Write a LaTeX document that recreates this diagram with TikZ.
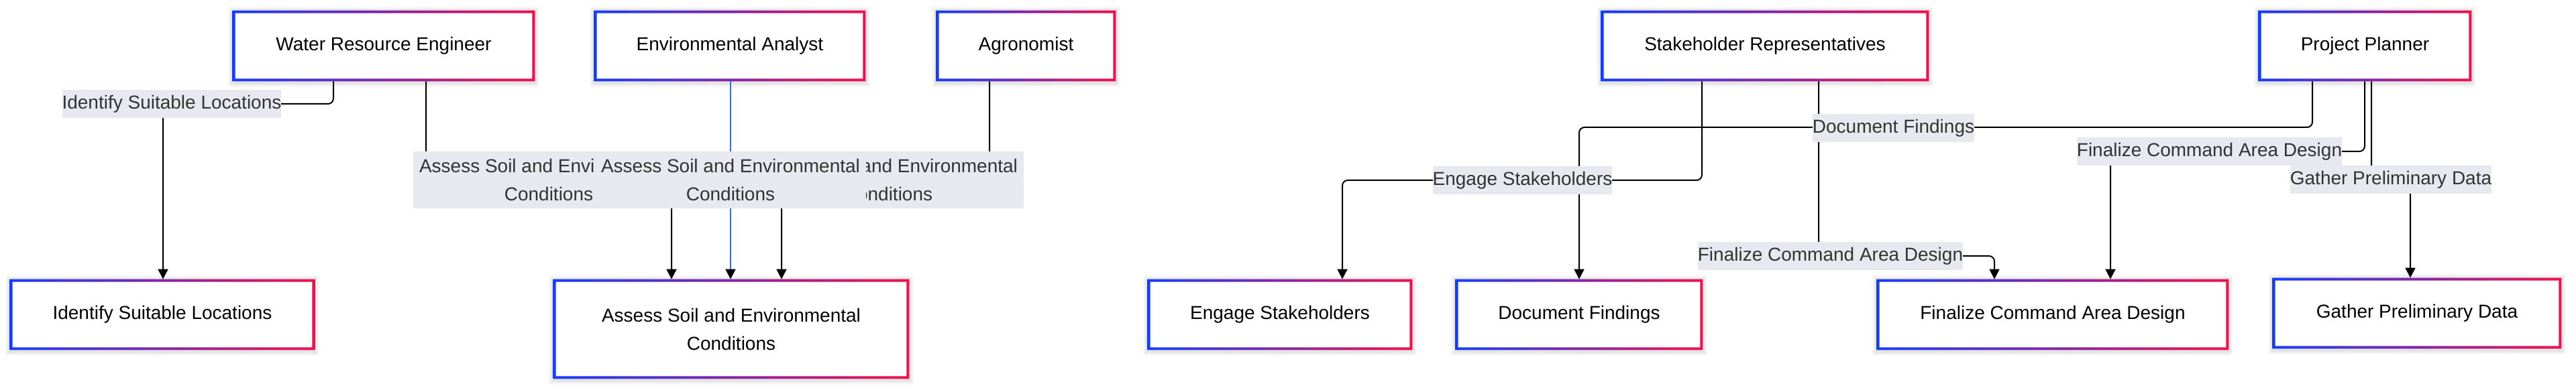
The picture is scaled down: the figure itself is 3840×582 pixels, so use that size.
\documentclass[tikz,border=0pt]{standalone}
\usepackage{fontspec}
\setmainfont{Liberation Sans}
\usetikzlibrary{arrows.meta}
\pgfdeclarelayer{bg}
\pgfdeclarelayer{edges}
\pgfsetlayers{bg,edges,main}
\definecolor{gbl}{RGB}{20,60,255}
\definecolor{grd}{RGB}{245,15,75}
\definecolor{labbg}{RGB}{232,232,241}
\definecolor{labtxt}{RGB}{51,51,51}
\definecolor{eblue}{RGB}{51,102,255}
\tikzset{
  boxn/.style={fill=white, inner sep=0pt, align=center, text=black,
    font=\fontsize{14}{21}\selectfont},
  lab/.style={fill=labbg, text=labtxt, inner sep=0pt, align=center,
    minimum height=21pt, font=\fontsize{14}{21}\selectfont},
  lab2/.style={lab, minimum width=202pt, minimum height=42.5pt},
  conn/.style={draw=black, line width=1pt, rounded corners=4pt,
    -{Triangle[width=7.5pt,length=7.5pt,color=black]}},
}
\newcommand\gring[1]{%
  \begin{pgfonlayer}{bg}
    \foreach \s/\o in {3.5pt/0.025, 2.5pt/0.035, 1.5pt/0.045}{%
      \fill[black, opacity=\o] ([shift={(-\s,-\s-1pt)}]#1.south west) rectangle ([shift={(\s,\s-0.5pt)}]#1.north east);}
  \end{pgfonlayer}
  \shade[left color=gbl, right color=grd, even odd rule]
    (#1.south west) rectangle (#1.north east)
    ([shift={(2pt,2pt)}]#1.south west) rectangle ([shift={(-2pt,-2pt)}]#1.north east);
}
\newcommand\mkbox[5]{%
  \node[boxn, minimum width=#3*0.5pt, minimum height=#4*0.5pt] (#1) at (#2) {#5};
  \gring{#1}}
\begin{document}
\begin{tikzpicture}[x=0.5pt,y=-0.5pt]
\useasboundingbox (0,0) rectangle (3840,582);
\begin{pgfonlayer}{bg}
  \fill[white] (0,0) rectangle (3840,582);
\end{pgfonlayer}
% top row
\mkbox{wre}{572,68.5}{450}{105}{Water Resource Engineer}
\mkbox{ea}{1088,68.5}{404}{105}{Environmental Analyst}
\mkbox{agr}{1529.5,68.5}{267}{105}{Agronomist}
\mkbox{sr}{2631,68.5}{488}{105}{Stakeholder Representatives}
\mkbox{pp}{3525.5,68.5}{317}{105}{Project Planner}
% bottom row
\mkbox{idl}{242,469.5}{454}{105}{Identify Suitable Locations}
\mkbox{asc}{1090,491}{530}{148}{Assess Soil and Environmental\\Conditions}
\mkbox{eng}{1908,469.5}{394}{105}{Engage Stakeholders}
\mkbox{doc}{2354,469.5}{368}{105}{Document Findings}
\mkbox{fin}{3060,469.5}{524}{105}{Finalize Command Area Design}
\mkbox{gpd}{3603,467.5}{430}{105}{Gather Preliminary Data}
% labels
\node[lab] (l1) at (256,155) {Identify Suitable Locations};
\node[lab2] (l2a) at (818,268.5) {Assess Soil and Environmental\\Conditions};
\node[lab2] (l2c) at (1324,268.5) {Assess Soil and Environmental\\Conditions};
\node[lab2] (l2b) at (1089,268.5) {Assess Soil and Environmental\\Conditions};
\node[lab] (l3) at (2269.5,269) {Engage Stakeholders};
\node[lab] (l4) at (2822.5,191) {Document Findings};
\node[lab] (l5) at (2728.5,382) {Finalize Command Area Design};
\node[lab] (l6) at (3293.5,226) {Finalize Command Area Design};
\node[lab] (l7) at (3564,268) {Gather Preliminary Data};
% connectors
\begin{pgfonlayer}{edges}
\draw[conn] (497,0 |- wre.south) -- (497,155) -- (243,155) -- (243,0 |- idl.north);
\draw[conn] (635,0 |- wre.south) -- (635,268) -- (1001,268) -- (1001,0 |- asc.north);
\draw[conn, draw=eblue] (1089,0 |- ea.south) -- (1089,0 |- asc.north);
\draw[conn] (1475,0 |- agr.south) -- (1475,268) -- (1165,268) -- (1165,0 |- asc.north);
\draw[conn] (2537,0 |- sr.south) -- (2537,269) -- (2001,269) -- (2001,0 |- eng.north);
\draw[conn] (2711,0 |- sr.south) -- (2711,382) -- (2973,382) -- (2973,0 |- fin.north);
\draw[conn] (3447,0 |- pp.south) -- (3447,190) -- (2354,190) -- (2354,0 |- doc.north);
\draw[conn] (3525,0 |- pp.south) -- (3525,226) -- (3146,226) -- (3146,0 |- fin.north);
\draw[conn] (3535,0 |- pp.south) -- (3535,268) -- (3593,268) -- (3593,0 |- gpd.north);
\end{pgfonlayer}
\end{tikzpicture}
\end{document}
